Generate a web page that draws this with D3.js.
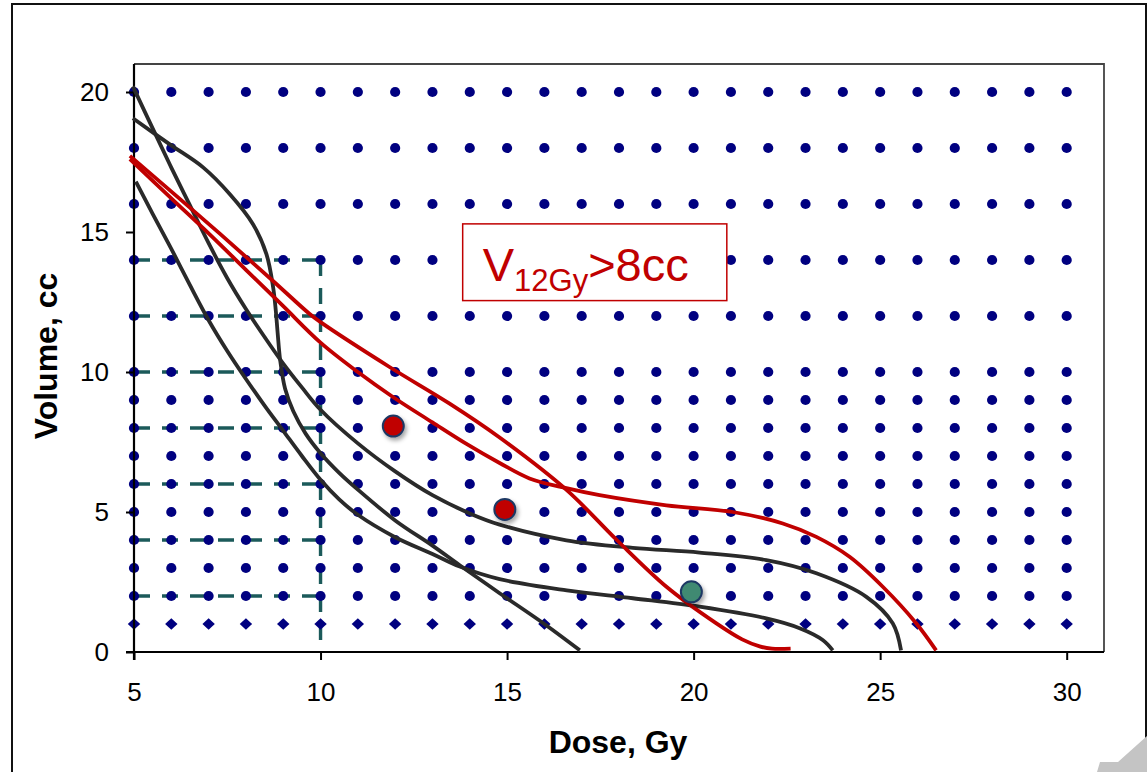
<!DOCTYPE html>
<html><head><meta charset="utf-8">
<script src="https://cdn.jsdelivr.net/npm/d3@7"></script>
<style>
html,body{margin:0;padding:0;background:#fff;}
svg{display:block;font-family:"Liberation Sans",Arial,sans-serif;}
</style></head>
<body>
<svg id="chart" width="1147" height="772"></svg>
<script>
// ---------- data ----------
const doseTicks = [5, 10, 15, 20, 25, 30];
const volumeTicks = [0, 5, 10, 15, 20];
const gridDoses = [5,6,7,8,9,10,11,12,13,14,15,16,17,18,19,20,21,22,23,24,25,26,27,28,29,30];
const gridVolumes = [20,18,16,14,12,10,9,8,7,6,5,4,3,2];
const diamondVolumes = [1];
const dashVolumes = [14,12,10,8,6,4,2];
const dashDose = 10;

// black DVH curves [dose, volume]
const blackA = [[5.05,16.8],[5.5,15.65],[6,14.4],[6.5,13.1],[7,11.85],[7.5,10.75],[8,9.75],[8.5,8.8],[9,7.9],[9.5,7.0],[10,6.15],[10.5,5.45],[11,4.9],[12,4.1],[13,3.5],[13.73,3.05],[14.8,2.6],[16.6,2.2],[18.37,1.92],[20.16,1.62],[21.95,1.2],[22.84,0.85],[23.46,0.43],[23.73,0.06]];
const blackB = [[4.97,20.2],[5.5,18.7],[6,17.3],[6.5,15.95],[7,14.6],[7.5,13.35],[8,12.25],[8.5,11.25],[9,10.3],[9.5,9.45],[10,8.65],[11,7.45],[12,6.45],[13,5.6],[14,4.95],[14.8,4.55],[16.59,3.99],[18.37,3.72],[20.16,3.55],[21.95,3.28],[23.29,2.81],[24.63,1.97],[25.34,1.02],[25.56,0.06]];
const blackC = [[4.97,19.06],[5.96,18.13],[6.86,17.3],[7.57,16.35],[8.19,15.28],[8.55,14.21],[8.73,13.02],[8.8,12.2],[8.85,11.4],[8.92,10.4],[9.05,9.4],[9.27,8.6],[9.6,7.8],[10,7.1],[10.5,6.4],[11,5.8],[12,4.7],[13,3.8],[13.73,3.1],[14.8,2.1],[16,1.0],[16.95,0.06]];
// red DVH curves
const redR1 = [[4.89,17.72],[7.3,14.94],[8.72,13.26],[9.71,12.07],[10,11.78],[11.86,10.17],[13.46,8.87],[14.8,7.66],[16.6,5.78],[17.94,4.0],[19.28,2.32],[20.6,1.03],[21.3,0.45],[21.77,0.2],[22.1,0.12],[22.6,0.12]];
const redR2 = [[4.89,17.6],[6,16.2],[7,14.95],[8,13.65],[9,12.35],[10,11.05],[11,10.0],[11.95,9.1],[13,8.2],[13.9,7.44],[14.8,6.75],[15.6,6.2],[16.59,5.85],[17.48,5.6],[19.27,5.24],[21.05,5.0],[22.39,4.59],[23.29,4.11],[24.18,3.4],[25.07,2.33],[25.97,1.02],[26.5,0.06]];

const redPoints = [[11.95,8.07],[14.94,5.09]];
const tealPoints = [[19.94,2.15]];

const annotation = {main: "V", sub: "12Gy", rest: ">8cc"};

// ---------- layout ----------
const svg = d3.select("#chart");
const x = d3.scaleLinear().domain([5,31]).range([134,1104]);
const y = d3.scaleLinear().domain([0,21]).range([652,64]);

const defs = svg.append("defs");
const f = defs.append("filter").attr("id","shadow").attr("x","-50%").attr("y","-50%").attr("width","200%").attr("height","200%");
f.append("feDropShadow").attr("dx",2).attr("dy",3).attr("stdDeviation",2).attr("flood-color","#000").attr("flood-opacity",0.35);

// outer frame
svg.append("rect").attr("x",12).attr("y",4).attr("width",1134).attr("height",800)
  .attr("fill","none").attr("stroke","#111").attr("stroke-width",2);

// plot frame (top/right)
svg.append("path")
  .attr("d",`M${x(5)},${y(21)}H${x(31)}V${y(0)}`)
  .attr("fill","none").attr("stroke","#444").attr("stroke-width",1.8);

// dashed lines
const dashG = svg.append("g").attr("stroke","#1b5a5a").attr("stroke-width",3.4).attr("stroke-dasharray","16,12").attr("fill","none");
dashVolumes.forEach(v=>{
  dashG.append("line").attr("x1",x(5)).attr("x2",x(dashDose)).attr("y1",y(v)).attr("y2",y(v));
});
dashG.append("line").attr("x1",x(dashDose)).attr("x2",x(dashDose)).attr("y1",y(d3.max(dashVolumes))).attr("y2",y(0));

// grid dots
const dotG = svg.append("g").attr("fill","#000080");
gridVolumes.forEach(v=>{
  gridDoses.forEach(d=>{
    dotG.append("circle").attr("cx",x(d)).attr("cy",y(v)).attr("r",5.1);
  });
});
diamondVolumes.forEach(v=>{
  gridDoses.forEach(d=>{
    const cx=x(d), cy=y(v);
    dotG.append("path").attr("d",`M${cx-6.2},${cy}L${cx},${cy-5.8}L${cx+6.2},${cy}L${cx},${cy+5.8}Z`);
  });
});

// axes
const yAxis = d3.axisLeft(y).tickValues(volumeTicks).tickSize(8).tickPadding(17).tickFormat(d3.format("d"));
const gy = svg.append("g").attr("transform",`translate(${x(5)},0)`).call(yAxis);
const xAxis = d3.axisBottom(x).tickValues(doseTicks).tickSize(8).tickPadding(23).tickFormat(d3.format("d"));
const gx = svg.append("g").attr("transform",`translate(0,${y(0)})`).call(xAxis);
[gx,gy].forEach(g=>{
  g.select(".domain").remove();
  g.selectAll(".tick line").attr("stroke","#000").attr("stroke-width",2);
  g.selectAll(".tick text").attr("font-size",26).attr("fill","#000").attr("font-family","Liberation Sans, Arial, sans-serif");
});
svg.append("line").attr("x1",x(5)).attr("x2",x(5)).attr("y1",y(21)).attr("y2",y(0)+8).attr("stroke","#000").attr("stroke-width",2.2);
svg.append("line").attr("x1",x(5)-8).attr("x2",x(31)).attr("y1",y(0)).attr("y2",y(0)).attr("stroke","#000").attr("stroke-width",2.2);

// curves
const line = d3.line().x(d=>x(d[0])).y(d=>y(d[1])).curve(d3.curveCatmullRom.alpha(0.5));
const curveG = svg.append("g").attr("fill","none").attr("stroke-width",3.8).attr("stroke-linecap","butt");
[blackA,blackB,blackC].forEach(c=>curveG.append("path").attr("d",line(c)).attr("stroke","#2a2a2a"));
[redR1,redR2].forEach(c=>curveG.append("path").attr("d",line(c)).attr("stroke","#c00000"));

// points
svg.append("g").selectAll("circle").data(redPoints).join("circle")
  .attr("cx",d=>x(d[0])).attr("cy",d=>y(d[1])).attr("r",10.5)
  .attr("fill","#c00000").attr("stroke","#1f3864").attr("stroke-width",2).attr("filter","url(#shadow)");
svg.append("g").selectAll("circle").data(tealPoints).join("circle")
  .attr("cx",d=>x(d[0])).attr("cy",d=>y(d[1])).attr("r",10.5)
  .attr("fill","#3f8a72").attr("stroke","#1f3864").attr("stroke-width",2).attr("filter","url(#shadow)");

// annotation box
const bx0 = x(13.81), bx1 = x(20.89), by0 = y(15.29), by1 = y(12.55);
svg.append("rect").attr("x",bx0).attr("y",by0).attr("width",bx1-bx0).attr("height",by1-by0)
  .attr("fill","#fff").attr("stroke","#c00000").attr("stroke-width",1.5);
const t = svg.append("text").attr("x",bx0+20).attr("y",by0+57).attr("fill","#c00000").attr("font-size",47);
t.append("tspan").text(annotation.main);
t.append("tspan").attr("font-size",31).attr("dy",10).text(annotation.sub);
t.append("tspan").attr("dy",-10).text(annotation.rest);

// axis titles
svg.append("text").attr("transform","translate(57,356) rotate(-90)").attr("text-anchor","middle")
  .attr("font-weight","bold").attr("font-size",32).attr("fill","#000").text("Volume, cc");
svg.append("text").attr("x",618).attr("y",753).attr("text-anchor","middle")
  .attr("font-weight","bold").attr("font-size",32).attr("fill","#000").text("Dose, Gy");

// page curl corner
svg.append("polygon").attr("points","1097,772 1100,762 1118,762 1147,736 1147,772").attr("fill","#c4c4c4");
</script>
</body></html>
